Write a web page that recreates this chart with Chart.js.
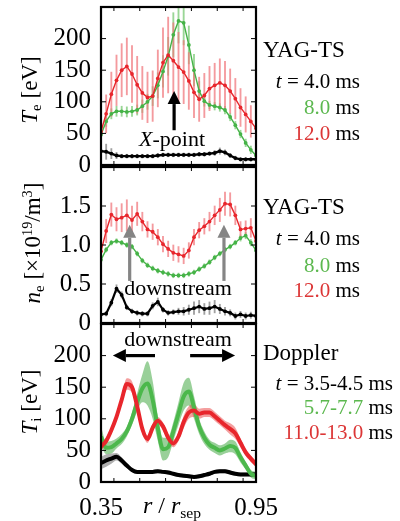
<!DOCTYPE html>
<html><head><meta charset="utf-8">
<script src="https://cdn.jsdelivr.net/npm/chart.js@4.4.1/dist/chart.umd.min.js"></script>
<style>
html,body{margin:0;padding:0;background:#fff;}
#wrap{position:relative;width:400px;height:521px;overflow:hidden;color:#000;background:#fff;}
canvas{position:absolute;left:0;top:0;}
sub{font-size:65%;vertical-align:-0.3em;line-height:0;}
sup{font-size:62%;vertical-align:0.55em;line-height:0;}
</style></head>
<body>
<div id="wrap">
<canvas id="c1" width="400" height="521"></canvas>
<canvas id="c2" width="400" height="521"></canvas>
<canvas id="c3" width="400" height="521"></canvas>

<div style="position:absolute;left:-20px;top:76px;width:100px;height:28px;line-height:28px;text-align:center;font-family:'Liberation Serif';font-size:23px;transform:rotate(-90deg);"><i>T</i><sub>e</sub> [eV]</div>
<div style="position:absolute;left:-52px;top:229px;width:170px;height:28px;line-height:28px;text-align:center;font-family:'Liberation Serif';font-size:23px;transform:rotate(-90deg);"><i>n</i><sub>e</sub> [×10<sup>19</sup>/m<sup>3</sup>]</div>
<div style="position:absolute;left:-20px;top:388px;width:100px;height:28px;line-height:28px;text-align:center;font-family:'Liberation Serif';font-size:23px;transform:rotate(-90deg);"><i>T</i><sub>i</sub> [eV]</div>
<div style="position:absolute;left:112px;top:491px;width:120px;line-height:28px;text-align:center;font-family:'Liberation Serif';font-size:24px;"><i>r</i> / <i>r</i><sub>sep</sub></div>

<div style="position:absolute;left:112px;top:126px;width:120px;line-height:26px;text-align:center;font-family:'Liberation Serif';font-size:22px;"><i>X</i>-point</div>
<div style="position:absolute;left:108px;top:275px;width:140px;line-height:26px;text-align:center;font-family:'Liberation Serif';font-size:22px;">downstream</div>
<div style="position:absolute;left:108px;top:326px;width:140px;line-height:26px;text-align:center;font-family:'Liberation Serif';font-size:22px;">downstream</div>

<div style="position:absolute;left:263px;top:36px;line-height:28px;font-family:'Liberation Serif';font-size:23px;">YAG-TS</div>
<div style="position:absolute;left:240px;width:120px;top:68px;line-height:26px;text-align:right;font-family:'Liberation Serif';font-size:21px;"><i>t</i> = 4.0 ms</div>
<div style="position:absolute;left:240px;width:120px;top:94px;line-height:26px;text-align:right;font-family:'Liberation Serif';font-size:21px;"><span style="color:#5cb84f">8.0</span> ms</div>
<div style="position:absolute;left:240px;width:120px;top:120px;line-height:26px;text-align:right;font-family:'Liberation Serif';font-size:21px;"><span style="color:#dc3636">12.0</span> ms</div>

<div style="position:absolute;left:263px;top:193px;line-height:28px;font-family:'Liberation Serif';font-size:23px;">YAG-TS</div>
<div style="position:absolute;left:240px;width:120px;top:225px;line-height:26px;text-align:right;font-family:'Liberation Serif';font-size:21px;"><i>t</i> = 4.0 ms</div>
<div style="position:absolute;left:240px;width:120px;top:252px;line-height:26px;text-align:right;font-family:'Liberation Serif';font-size:21px;"><span style="color:#5cb84f">8.0</span> ms</div>
<div style="position:absolute;left:240px;width:120px;top:277px;line-height:26px;text-align:right;font-family:'Liberation Serif';font-size:21px;"><span style="color:#dc3636">12.0</span> ms</div>

<div style="position:absolute;left:263px;top:339px;line-height:28px;font-family:'Liberation Serif';font-size:23px;">Doppler</div>
<div style="position:absolute;left:253px;width:140px;top:370px;line-height:26px;text-align:right;font-family:'Liberation Serif';font-size:21px;"><i>t</i> = 3.5-4.5 ms</div>
<div style="position:absolute;left:253px;width:140px;top:394px;line-height:26px;text-align:right;font-family:'Liberation Serif';font-size:21px;"><span style="color:#5cb84f">5.7-7.7</span> ms</div>
<div style="position:absolute;left:253px;width:140px;top:419px;line-height:26px;text-align:right;font-family:'Liberation Serif';font-size:21px;"><span style="color:#dc3636">11.0-13.0</span> ms</div>
</div>
<script>
// ---------- DATA ----------
const rPos = [0.35,0.37,0.39,0.41,0.43,0.45,0.47,0.49,0.51,0.53,0.55,0.57,0.59,0.61,0.63,0.65,0.67,0.69,0.71,0.73,0.75,0.77,0.79,0.81,0.83,0.85,0.87,0.89,0.91,0.93,0.95];

// Te [eV], YAG-TS
const TeBlack = [22,21,18,15,14,14,14,14,14,14,14,15,16,16,16,16,16,16,16,17,17,18,19,22,20,15,11,9,9,9,9];
const TeGreen = [48,69,81,85,85,84,85,87,93,100,109,126,148,172,206,228,225,190,150,117,101,95,93,91,87,76,63,49,35,24,15];
const TeRed   = [53,81,112,134,150,156,144,127,114,107,109,137,162,174,165,155,147,133,115,104,110,121,126,130,126,117,105,91,80,69,58];
const TeBlackErr = [15,12,8,5,3,3,3,3,3,3,3,3,3,3,3,3,3,3,3,3,3,3,4,5,4,3,3,3,3,3,3];
const TeGreenErr = [8,8,8,8,8,8,8,8,10,12,15,20,25,30,35,35,35,30,25,15,8,6,6,6,6,6,6,6,6,6,6];
const TeRedErr   = [25,30,35,40,42,45,45,45,42,40,40,45,55,60,60,55,50,45,40,35,35,35,35,38,38,35,32,30,28,25,22];

// ne [1e19 /m3], YAG-TS
const neBlack = [0.11,0.12,0.26,0.44,0.36,0.20,0.15,0.13,0.12,0.12,0.22,0.27,0.17,0.13,0.14,0.15,0.15,0.17,0.19,0.21,0.18,0.19,0.21,0.18,0.15,0.13,0.09,0.11,0.09,0.10,0.09];
const neGreen = [0.81,0.94,1.03,1.05,1.03,1.00,0.98,0.89,0.80,0.74,0.70,0.67,0.65,0.63,0.61,0.61,0.61,0.63,0.65,0.69,0.73,0.78,0.84,0.89,0.94,0.98,1.03,1.09,1.12,1.03,0.93];
const neRed   = [0.92,1.18,1.39,1.33,1.35,1.38,1.32,1.40,1.30,1.20,1.17,1.10,1.01,0.95,0.90,0.88,0.86,0.93,1.10,1.19,1.24,1.30,1.38,1.45,1.53,1.52,1.38,1.20,1.21,1.22,1.05];
const neBlackErr = [0.03,0.03,0.04,0.05,0.04,0.03,0.03,0.03,0.03,0.03,0.04,0.05,0.03,0.03,0.03,0.04,0.05,0.06,0.08,0.08,0.07,0.08,0.08,0.06,0.05,0.04,0.04,0.04,0.04,0.04,0.04];
const neGreenErr = [0.03,0.03,0.03,0.03,0.03,0.03,0.03,0.03,0.03,0.03,0.03,0.03,0.03,0.03,0.03,0.03,0.03,0.03,0.03,0.03,0.03,0.03,0.03,0.03,0.03,0.03,0.03,0.04,0.04,0.04,0.04];
const neRedErr   = [0.12,0.15,0.15,0.15,0.18,0.20,0.18,0.15,0.12,0.10,0.10,0.10,0.10,0.10,0.10,0.10,0.10,0.10,0.10,0.10,0.10,0.12,0.12,0.15,0.15,0.15,0.12,0.10,0.10,0.12,0.10];

// Ti [eV], Doppler
const TiBlack = [30,34,37,40,34,26,19,16,16,16,16,17,16,15,13,11,10,9,8,9,11,13,16,17,17,15,13,12,12,12,12];
const TiGreen = [72,54,55,61,68,80,100,126,148,156,130,85,52,55,80,108,135,143,118,88,70,59,54,50,53,57,54,39,26,13,10];
const TiRed   = [56,65,82,103,130,155,150,120,84,68,86,97,88,70,61,72,95,110,113,108,110,110,104,97,90,84,77,62,47,37,28];
const TiBlackBand = [10,10,8,6,5,4,3,3,3,3,3,3,3,3,3,3,3,3,3,3,3,3,3,3,3,3,3,3,3,3,3];
const TiGreenBand = [16,10,10,8,8,8,10,14,22,35,30,20,18,16,15,18,22,22,18,12,10,8,8,8,8,10,10,8,6,6,6];
const TiRedBand   = [6,6,6,6,7,9,9,7,6,6,6,6,6,6,6,7,10,10,10,8,7,7,7,7,7,9,9,7,6,5,5];

// tick labels
const TeTicks = [0,50,100,150,200];
const neTicks = [0,0.5,1.0,1.5];
const TiTicks = [0,50,100,150,200];
const xTickLabels = [0.35,0.95];
const xTickMarks = [0.4,0.5,0.6,0.7,0.8,0.9];

// annotation arrows [xFrom, yFrom, xTo, yTo] in data units
const xPointArrow = [[0.633,55,0.633,117]];
const neArrows = [[0.461,0.54,0.461,1.26],[0.826,0.54,0.826,1.26]];
const TiArrows = [[0.559,200,0.396,200],[0.695,200,0.869,200]];

// ---------- STYLE ----------
const RED='#e8262c', GREEN='#45b347', BLACK='#000000';
const FONT="'Liberation Serif'";

function drawArrow(ctx,x1,y1,x2,y2,color,shaft,headL,headW){
  const dx=x2-x1, dy=y2-y1, L=Math.hypot(dx,dy), ux=dx/L, uy=dy/L;
  const bx=x2-ux*headL, by=y2-uy*headL;
  ctx.strokeStyle=color; ctx.lineWidth=shaft; ctx.lineCap='butt';
  ctx.beginPath(); ctx.moveTo(x1,y1); ctx.lineTo(bx,by); ctx.stroke();
  ctx.fillStyle=color; ctx.beginPath(); ctx.moveTo(x2,y2);
  ctx.lineTo(bx-uy*headW/2, by+ux*headW/2); ctx.lineTo(bx+uy*headW/2, by-ux*headW/2);
  ctx.closePath(); ctx.fill();
}

const framePlugin = {
  id:'frame',
  afterDatasetsDraw(chart, args, opts){
    const {ctx, chartArea:a, scales} = chart;
    ctx.save();
    ctx.strokeStyle='#000'; ctx.lineWidth=1;
    const seg=(x1,y1,x2,y2)=>{ctx.beginPath();ctx.moveTo(x1,y1);ctx.lineTo(x2,y2);ctx.stroke();};
    (opts.yMarks||[]).forEach(v=>{const y=scales.y.getPixelForValue(v); seg(a.left,y,a.left+5,y); seg(a.right,y,a.right-5,y);});
    xTickMarks.forEach(v=>{const x=scales.x.getPixelForValue(v); seg(x,a.top,x,a.top+4); seg(x,a.bottom,x,a.bottom-4);});
    ctx.lineWidth=2.2;
    ctx.strokeRect(a.left,a.top,a.right-a.left,a.bottom-a.top);
    (opts.arrows||[]).forEach(ar=>{
      drawArrow(ctx, scales.x.getPixelForValue(ar[0]), scales.y.getPixelForValue(ar[1]),
        scales.x.getPixelForValue(ar[2]), scales.y.getPixelForValue(ar[3]), opts.arrowColor, 3.2, 13, 13);
    });
    ctx.restore();
  }
};

function pts(vals){return rPos.map((x,i)=>({x:x,y:vals[i]}));}
function errs(vals,e){return rPos.map((x,i)=>({x:x,y:[vals[i]-e[i], vals[i]+e[i]]}));}
function band(vals,e,sign){return rPos.map((x,i)=>({x:x,y:vals[i]+sign*e[i]}));}

function errBar(vals,e,color){
  return {type:'bar', data:errs(vals,e), backgroundColor:color, borderWidth:0, barThickness:1.2, grouped:false, order:10};
}
function tsLine(vals,color,ord,w){
  return {type:'line', data:pts(vals), borderColor:color, backgroundColor:color, borderWidth:w||1.4,
    pointRadius:1.9, pointBorderWidth:0, pointBackgroundColor:color, tension:0, order:ord, fill:false};
}

function makeChart(id, datasets, o){
  return new Chart(document.getElementById(id), {
    type:'line',
    data:{datasets:datasets},
    options:{
      responsive:false, animation:false, devicePixelRatio:1,
      layout:{padding:{left:0,right:144,top:o.top,bottom:o.bottom}},
      plugins:{legend:{display:false}, tooltip:{enabled:false}, frame:o.frame},
      scales:{
        x:{type:'linear', min:0.35, max:0.95, offset:false, display:o.showX,
           grid:{display:false, drawTicks:false}, border:{display:false},
           ticks:{font:{family:FONT,size:25}, color:'#000', padding:11, maxRotation:0,
                  callback:(v)=>v.toFixed(2)},
           afterBuildTicks:(s)=>{s.ticks=xTickLabels.map(v=>({value:v}));},
           afterFit:(s)=>{s.height=o.showX?39:0; s.paddingLeft=0; s.paddingRight=0;}},
        y:{type:'linear', position:'left', min:o.ymin, max:o.ymax,
           grid:{display:false, drawTicks:false}, border:{display:false},
           ticks:{font:{family:FONT,size:25}, color:'#000', padding:10, callback:o.fmt},
           afterBuildTicks:(s)=>{s.ticks=o.ticks.map(v=>({value:v}));},
           afterFit:(s)=>{s.width=101; s.paddingTop=0; s.paddingBottom=0;}}
      }
    },
    plugins:[framePlugin]
  });
}

Chart.defaults.font.family = FONT;
const fmtInt=(v)=>String(v);
const fmtNe=(v)=>v===0?'0':v.toFixed(1);
const charts=[];

charts.push(makeChart('c1', [
  tsLine(TeRed,RED,1), tsLine(TeGreen,GREEN,2), tsLine(TeBlack,BLACK,3,2.4),
  errBar(TeRed,TeRedErr,'rgba(240,120,125,0.75)'),
  errBar(TeGreen,TeGreenErr,'rgba(120,200,115,0.75)'),
  errBar(TeBlack,TeBlackErr,'rgba(120,120,120,0.7)')
], {top:7, bottom:356, showX:false, ymin:0, ymax:250, ticks:TeTicks, fmt:fmtInt,
    frame:{yMarks:[50,100,150,200], arrows:xPointArrow, arrowColor:'#000'}}));

charts.push(makeChart('c2', [
  tsLine(neRed,RED,1), tsLine(neGreen,GREEN,2), tsLine(neBlack,BLACK,3,2.2),
  errBar(neRed,neRedErr,'rgba(240,120,125,0.75)'),
  errBar(neGreen,neGreenErr,'rgba(120,200,115,0.75)'),
  errBar(neBlack,neBlackErr,'rgba(120,120,120,0.7)')
], {top:167, bottom:198, showX:false, ymin:0, ymax:2.0, ticks:neTicks, fmt:fmtNe,
    frame:{yMarks:[0.5,1.0,1.5], arrows:neArrows, arrowColor:'#858585'}}));

function tiSet(vals,bw,lineColor,bandColor,ord){
  return [
    {type:'line', data:band(vals,bw,1), borderWidth:0, pointRadius:0, fill:false, cubicInterpolationMode:'monotone', order:ord+10},
    {type:'line', data:band(vals,bw,-1), borderWidth:0, pointRadius:0, fill:'-1', backgroundColor:bandColor, cubicInterpolationMode:'monotone', order:ord+10},
    {type:'line', data:pts(vals), borderColor:lineColor, borderWidth:4, pointRadius:0, fill:false, cubicInterpolationMode:'monotone', order:ord}
  ];
}
charts.push(makeChart('c3', [].concat(
  tiSet(TiBlack,TiBlackBand,BLACK,'rgba(110,110,110,0.55)',3),
  tiSet(TiGreen,TiGreenBand,'#4cb84c','rgba(70,170,70,0.55)',2),
  tiSet(TiRed,TiRedBand,RED,'rgba(235,80,80,0.55)',1)
), {top:324, bottom:0, showX:true, ymin:0, ymax:250, ticks:TiTicks, fmt:fmtInt,
    frame:{yMarks:[50,100,150,200], arrows:TiArrows, arrowColor:'#000'}}));

if (document.fonts && document.fonts.load) {
  document.fonts.load("25px 'Liberation Serif'").then(()=>{charts.forEach(c=>c.update('none'));}).catch(()=>{});
}
</script>
</body></html>
